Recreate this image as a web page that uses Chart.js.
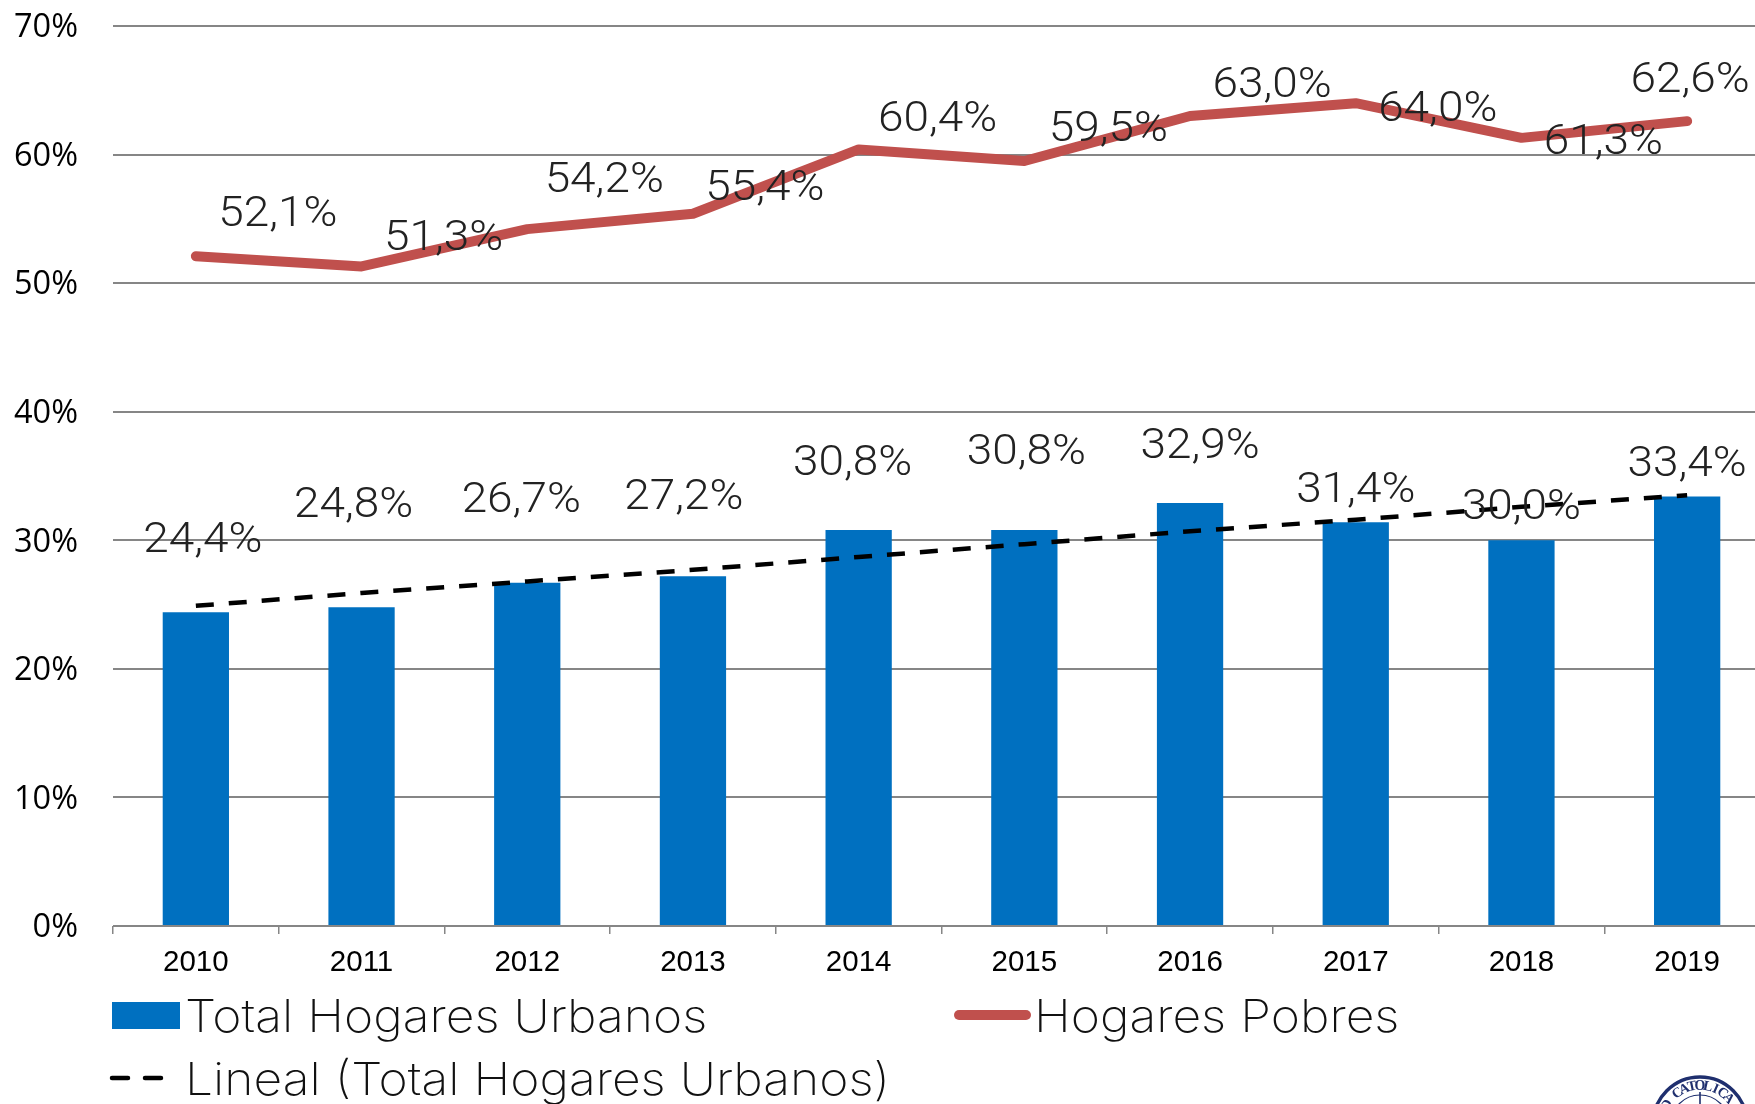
<!DOCTYPE html>
<html><head><meta charset="utf-8">
<style>html,body{margin:0;padding:0;background:#fff;overflow:hidden;width:1755px;height:1104px}
#wrap{width:1770px;height:1104px}canvas{display:block}</style>
<script src="https://cdn.jsdelivr.net/npm/chart.js@4"></script></head>
<body><div id="wrap"><canvas id="c" width="1770" height="1104"></canvas></div>
<script>
const years = ['2010','2011','2012','2013','2014','2015','2016','2017','2018','2019'];
const urbanos = [24.4,24.8,26.7,27.2,30.8,30.8,32.9,31.4,30.0,33.4];
const pobres = [52.1,51.3,54.2,55.4,60.4,59.5,63.0,64.0,61.3,62.6];
const tendencia = [24.9,25.9,26.8,27.7,28.7,29.7,30.7,31.6,32.6,33.5];
const yTicks = [0,10,20,30,40,50,60,70];
const urbanosLabelDx = [7,-8,-6,-9,-6,2,10,0,0,0];
const urbanosLabelDy = [-71,-101,-81,-78,-66,-77,-56,-31,-32,-31];
const pobresLabelDx = [82,82,77,72,79,84,82,82,82,3];
const pobresLabelDy = [-41,-27,-48,-24,-29,-31,-30,7,6,-40];

const fmt = v => v.toFixed(1).replace('.', ',') + '%';
const LIGHT = '300 42px Roboto';
const LEGEND = '200 45.5px Inter';
const wideText = (ctx, text, x, y, k) => {
  ctx.save(); ctx.translate(x, y); ctx.scale(k, 1); ctx.fillText(text, 0, 0); ctx.restore();
};

const valueLabels = {
  id: 'valueLabels',
  afterDatasetsDraw(chart) {
    const ctx = chart.ctx;
    ctx.save();
    ctx.font = LIGHT; ctx.fillStyle = '#222';
    ctx.textAlign = 'center'; ctx.textBaseline = 'middle';
    [[0, urbanos, urbanosLabelDx, urbanosLabelDy],[1, pobres, pobresLabelDx, pobresLabelDy]].forEach(([ds, vals, dx, dy]) => {
      chart.getDatasetMeta(ds).data.forEach((el, i) => {
        wideText(ctx, fmt(vals[i]), el.x + dx[i], el.y + dy[i], 1.094);
      });
    });
    ctx.restore();
  }
};

const sideLegend = {
  id: 'sideLegend',
  afterDraw(chart) {
    const ctx = chart.ctx, d = chart.data.datasets;
    ctx.save();
    ctx.font = LEGEND;
    ctx.textAlign = 'left'; ctx.textBaseline = 'alphabetic';
    ctx.fillStyle = d[0].backgroundColor; ctx.fillRect(112, 1002, 68, 27);
    ctx.fillStyle = '#111'; wideText(ctx, d[0].label, 185, 1032, 1.095);
    ctx.strokeStyle = d[1].borderColor; ctx.lineWidth = 10; ctx.lineCap = 'round';
    ctx.beginPath(); ctx.moveTo(959, 1015); ctx.lineTo(1026, 1015); ctx.stroke();
    wideText(ctx, d[1].label, 1034, 1032, 1.095);
    ctx.strokeStyle = d[2].borderColor; ctx.lineWidth = 4.5; ctx.lineCap = 'round';
    ctx.beginPath(); ctx.moveTo(112, 1078); ctx.lineTo(128, 1078); ctx.moveTo(145, 1078); ctx.lineTo(161, 1078); ctx.stroke();
    wideText(ctx, d[2].label, 185, 1095, 1.095);
    // sello, apenas visible en la esquina inferior derecha
    const cx = 1700, cy = 1124, r = 47, navy = '#1f2f6e';
    ctx.strokeStyle = navy; ctx.lineCap = 'butt';
    ctx.lineWidth = 3.5; ctx.beginPath(); ctx.arc(cx, cy, r, 0, Math.PI*2); ctx.stroke();
    ctx.lineWidth = 1.2; ctx.beginPath(); ctx.arc(cx, cy, r-18, 0, Math.PI*2); ctx.stroke();
    ctx.font = '700 14px "Liberation Serif"'; ctx.fillStyle = navy; ctx.textAlign = 'center'; ctx.textBaseline = 'middle';
    const t = 'D CATOLICA', step = 0.21;
    [...t].forEach((ch, i) => {
      const a = -Math.PI/2 + (i - 5) * step;
      ctx.save(); ctx.translate(cx + (r-9)*Math.cos(a), cy + (r-9)*Math.sin(a)); ctx.rotate(a + Math.PI/2);
      ctx.fillText(ch, 0, 0); ctx.restore();
    });
    ctx.fillRect(cx-0.8, 1092, 1.6, 12);
    ctx.restore();
  }
};

new Chart(document.getElementById('c'), {
  data: {
    labels: years,
    datasets: [
      { type:'bar', label:'Total Hogares Urbanos', data:urbanos, backgroundColor:'#0070C0', barPercentage:0.4, categoryPercentage:1, order:3 },
      { type:'line', label:'Hogares Pobres', data:pobres, borderColor:'#C0504D', borderWidth:10, pointRadius:0, tension:0, borderCapStyle:'round', borderJoinStyle:'round', order:2 },
      { type:'line', label:'Lineal (Total Hogares Urbanos)', data:tendencia, borderColor:'#000', borderWidth:4.5, borderDash:[18,15], pointRadius:0, tension:0, order:1 }
    ]
  },
  options: {
    responsive:false, animation:false,
    layout:{ padding:{ top:26, left:0, right:0, bottom:0 } },
    plugins:{ legend:{display:false}, tooltip:{enabled:false} },
    scales:{
      x:{
        grid:{ drawOnChartArea:false, color:'#868686', lineWidth:1.5, tickLength:8, offset:true },
        border:{ display:false },
        ticks:{ color:'#000', font:{ family:'"Liberation Sans"', size:29.5 }, padding:11, maxRotation:0, autoSkip:false },
        afterFit(s){ s.height = 178; s.paddingLeft = 0; s.paddingRight = 0; }
      },
      y:{
        min:0, max:70,
        afterBuildTicks(s){ s.ticks = yTicks.map(v => ({value:v})); },
        grid:{ color:'#868686', lineWidth:2, drawTicks:false },
        border:{ display:false },
        ticks:{ color:'#000', font:{ family:'"Open Sans"', size:32.5 }, padding:35, labelOffset:2, callback:v => v + '%' },
        afterFit(s){ s.width = 113; s.paddingTop = 0; s.paddingBottom = 0; }
      }
    }
  },
  plugins:[valueLabels, sideLegend]
});
</script></body></html>
